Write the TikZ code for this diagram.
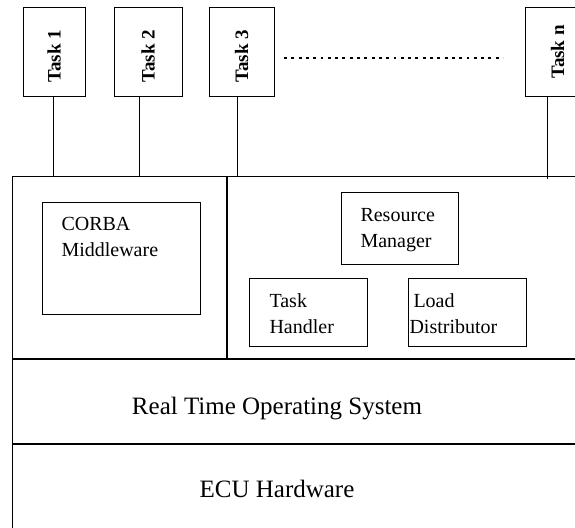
\documentclass[tikz,border=0pt]{standalone}
\usepackage{fontspec}
\setmainfont{Liberation Serif}
\usetikzlibrary{positioning}

\begin{document}
\begin{tikzpicture}[x=1pt, y=-1pt, line width=1pt,
  taskbox/.style={draw, minimum width=65pt, minimum height=88pt, inner sep=0pt, font=\fontsize{19}{19}\selectfont\bfseries},
  layer/.style={draw, anchor=north west, inner sep=0pt},
  compbox/.style={draw, anchor=north west, inner sep=0pt},
  comptext/.style={inner sep=0pt, align=left, font=\fontsize{20}{26}\selectfont},
  layertext/.style={anchor=base, inner sep=0pt, font=\fontsize{25}{30}\selectfont},
  ellipsis/.style={line width=2.8pt, dash pattern=on 2.9pt off 4.4pt}]
\useasboundingbox (0,0) rectangle (575,527);
\clip (0,0) rectangle (575,527);

% layer stack
\node[layer, minimum width=214pt, minimum height=182pt] (mwlayer) at (12,176) {};
\node[layer, minimum width=380pt, minimum height=182pt] (svclayer) at (mwlayer.north east) {};
\node[layer, minimum width=594pt, minimum height=84pt] (rtos) at (mwlayer.south west) {};
\node[layer, minimum width=594pt, minimum height=100pt] (ecu) at (rtos.south west) {};
\node[layertext] (rtoslbl) at (277,414) {Real Time Operating System};
\node[layertext] (eculbl) at (277,497) {ECU Hardware};

% middleware and services
\node[compbox, minimum width=158pt, minimum height=112pt] (corba) at (42,202) {};
\node[comptext, below right=15pt and 19pt of corba.north west] (corbalbl) {CORBA\\Middleware};
\node[compbox, minimum width=117pt, minimum height=72pt] (resmgr) at (341,192) {};
\node[comptext, below right=16pt and 19pt of resmgr.north west] (resmgrlbl) {Resource\\Manager};
\node[compbox, minimum width=118pt, minimum height=68pt] (handler) at (249,278) {};
\node[comptext, below right=15pt and 20pt of handler.north west] (handlerlbl) {Task\\Handler};
\node[compbox, minimum width=118pt, minimum height=68pt] (loaddist) at (408,278) {};
\node[comptext, below right=15pt and 1pt of loaddist.north west] (loaddistlbl) {\hspace{4pt}Load\\Distributor};

% tasks on top
\node[taskbox, minimum width=62pt] (t1) at (54,52) {\rotatebox{90}{Task 1\hspace{9pt}}};
\node[taskbox, minimum width=68pt] (t2) at (148,52) {\rotatebox{90}{Task 2\hspace{9pt}}};
\node[taskbox] (t3) at (241.5,52) {\rotatebox{90}{Task 3\hspace{9pt}}};
\node[taskbox] (tn) at (557.5,52) {\rotatebox{90}{Task n}};

\coordinate (f1) at (53,176);
\coordinate (f2) at (139,176);
\coordinate (f3) at (237,176);
\coordinate (fn) at (547,179);
\draw (t1.south -| f1) -- (f1);
\draw (t2.south -| f2) -- (f2);
\draw (t3.south -| f3) -- (f3);
\draw (tn.south -| fn) -- (fn);

% more tasks
\coordinate (dots0) at (284,58);
\coordinate (dots1) at (503,58);
\draw[ellipsis] (dots0) -- (dots1);
\end{tikzpicture}
\end{document}
